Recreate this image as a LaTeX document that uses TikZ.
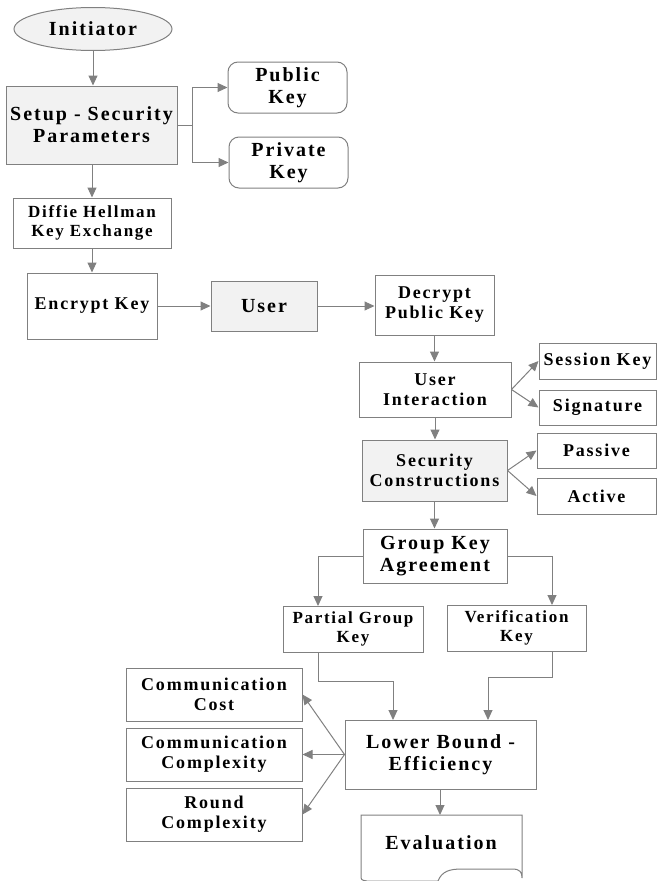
\documentclass[tikz,border=0pt]{standalone}
\usepackage{fontspec}
\setmainfont{Liberation Serif}[LetterSpace=10]
\usetikzlibrary{arrows.meta,shapes.geometric}
\definecolor{linecol}{RGB}{128,128,128}
\definecolor{boxfill}{RGB}{242,242,242}
\tikzset{
  big/.style={font=\bfseries\fontsize{20}{22}\selectfont},
  mid/.style={font=\bfseries\fontsize{18}{20}\selectfont},
  small/.style={font=\bfseries\fontsize{17}{19}\selectfont},
  box/.style={draw=linecol, line width=1pt, fill=white, align=center, inner sep=0pt},
  gbox/.style={box, fill=boxfill},
  rbox/.style={box, rounded corners=10pt},
  conn/.style={draw=linecol, line width=1pt, -{Triangle[width=9pt,length=10pt]}},
}
\begin{document}
\begin{tikzpicture}[x=1pt,y=-1pt]
\useasboundingbox (0,0) rectangle (657,881);
% nodes
\node[gbox, big, ellipse, minimum width=158pt, minimum height=43pt] (init) at (93,29) {Initiator};
\node[gbox, big, minimum width=171pt, minimum height=78pt] (setup) at (91.5,125) {Setup - Security\\Parameters};
\node[rbox, big, minimum width=119pt, minimum height=51pt] (pub) at (287.5,87.5) {Public\\Key};
\node[rbox, big, minimum width=119pt, minimum height=51pt] (priv) at (288.5,162.5) {Private\\Key};
\node[box, small, minimum width=158pt, minimum height=50pt] (dh) at (92,223) {Diffie Hellman\\Key Exchange};
\node[box, mid, minimum width=130pt, minimum height=66pt] (enc) at (92,306) {Encrypt Key};
\node[gbox, big, minimum width=106pt, minimum height=50pt] (user) at (264,306) {User};
\node[box, mid, minimum width=119pt, minimum height=60pt] (dec) at (434.5,305) {Decrypt\\Public Key};
\node[box, mid, minimum width=152pt, minimum height=55pt] (ui) at (435,389.5) {User\\Interaction};
\node[box, mid, minimum width=117pt, minimum height=36pt] (sk) at (597.5,361) {Session Key};
\node[box, mid, minimum width=117pt, minimum height=35pt] (sig) at (597.5,407.5) {Signature};
\node[gbox, mid, minimum width=145pt, minimum height=61pt] (sc) at (434.5,470.5) {Security\\Constructions};
\node[box, mid, minimum width=119pt, minimum height=35pt] (pas) at (596.5,450.5) {Passive};
\node[box, mid, minimum width=119pt, minimum height=36pt] (act) at (596.5,496) {Active};
\node[box, big, minimum width=144pt, minimum height=54pt] (gka) at (435,556) {Group Key\\Agreement};
\node[box, small, minimum width=140pt, minimum height=46pt] (pgk) at (353,629) {Partial Group\\Key};
\node[box, small, minimum width=139pt, minimum height=46pt] (vk) at (516.5,628) {Verification\\Key};
\node[box, big, minimum width=191pt, minimum height=69pt] (lb) at (440.5,754.5) {Lower Bound -\\Efficiency};
\node[box, mid, minimum width=176pt, minimum height=53pt] (cc) at (214,694.5) {Communication\\Cost};
\node[box, mid, minimum width=176pt, minimum height=53pt] (cx) at (214,754.5) {Communication\\Complexity};
\node[box, mid, minimum width=176pt, minimum height=53pt] (rc) at (214,814.5) {Round\\Complexity};
% evaluation document shape
\draw[draw=linecol, line width=1pt, fill=white] (522,815) -- (361,815) -- (361,875)
  .. controls (361,880) .. (367,881) -- (438,881)
  .. controls (442,871) and (450,869) .. (462,869) -- (512,869)
  .. controls (520,869) and (522,872) .. (522,878) -- cycle;
\node[big, inner sep=0pt] (eval) at (441,843) {Evaluation};
\coordinate (evtop) at (440,815);
% connectors
\draw[conn] (init.south) -- (init.south |- setup.north);
\draw[conn] (setup.east) -- ++(15,0) |- (pub.west);
\draw[conn] (setup.east) -- ++(15,0) |- (priv.west);
\draw[conn] (setup.south -| dh.north) -- (dh.north);
\draw[conn] (dh.south) -- (dh.south |- enc.north);
\draw[conn] (enc.east) -- (user.west);
\draw[conn] (user.east) -- (user.east -| dec.west);
\draw[conn] (dec.south) -- (dec.south |- ui.north);
\draw[conn] (ui.east) -- (sk.west);
\draw[conn] (ui.east) -- (sig.west);
\draw[conn] (ui.south) -- (ui.south |- sc.north);
\draw[conn] (sc.east) -- (pas.west);
\draw[conn] (sc.east) -- (act.west);
\draw[conn] (sc.south) -- (sc.south |- gka.north);
\draw[conn] (gka.west) -- (318,556) -- (318,606);
\draw[conn] (gka.east) -- (552,556) -- (552,605);
\draw[conn] (318,652) -- (318,681) -- (393,681) -- (393,720);
\draw[conn] (552,651) -- (552,677) -- (488,677) -- (488,720);
\draw[conn] (lb.west) -- (cc.east);
\draw[conn] (lb.west) -- (cx.east);
\draw[conn] (lb.west) -- (rc.east);
\draw[conn] (lb.south -| evtop) -- (evtop);
\end{tikzpicture}
\end{document}
